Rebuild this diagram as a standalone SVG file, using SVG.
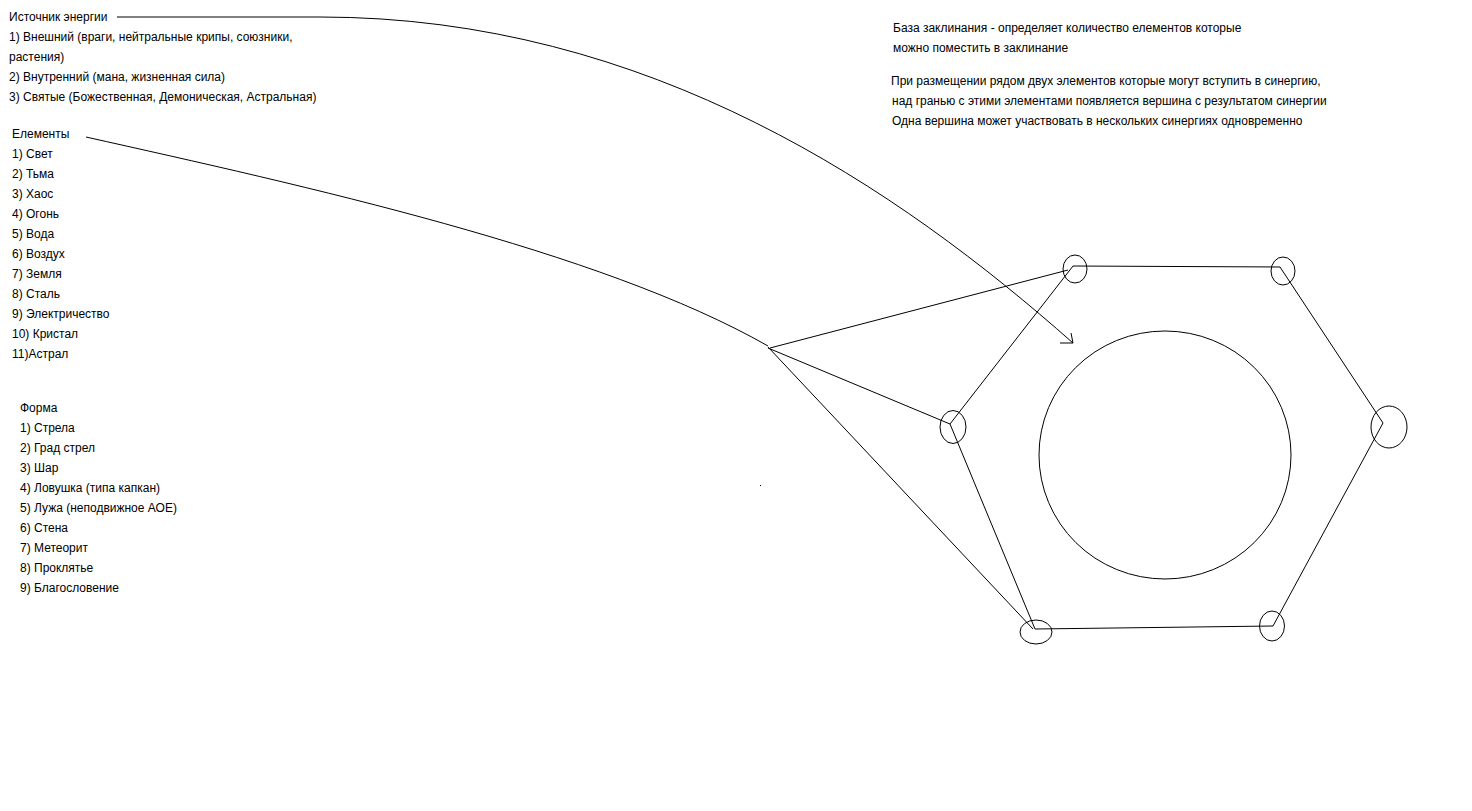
<svg xmlns="http://www.w3.org/2000/svg" width="1472" height="811" viewBox="0 0 1472 811">
<style>
text{font-family:"Liberation Sans",Arial,sans-serif;font-size:12px;fill:#000}
.ln{fill:none;stroke:#000;stroke-width:1}
</style>
<rect width="1472" height="811" fill="#fff"/>
<g id="source-text">
<text x="9" y="21">Источник энергии</text>
<text x="9" y="41">1) Внешний (враги, нейтральные крипы, союзники,</text>
<text x="9" y="61">растения)</text>
<text x="9" y="81">2) Внутренний (мана, жизненная сила)</text>
<text x="9" y="101">3) Святые (Божественная, Демоническая, Астральная)</text>
</g>
<g id="elements-text">
<text x="12" y="138">Елементы</text>
<text x="12" y="158">1) Свет</text>
<text x="12" y="178">2) Тьма</text>
<text x="12" y="198">3) Хаос</text>
<text x="12" y="218">4) Огонь</text>
<text x="12" y="238">5) Вода</text>
<text x="12" y="258">6) Воздух</text>
<text x="12" y="278">7) Земля</text>
<text x="12" y="298">8) Сталь</text>
<text x="12" y="318">9) Электричество</text>
<text x="12" y="338">10) Кристал</text>
<text x="12" y="358">11)Астрал</text>
</g>
<g id="form-text">
<text x="20" y="412">Форма</text>
<text x="20" y="432">1) Стрела</text>
<text x="20" y="452">2) Град стрел</text>
<text x="20" y="472">3) Шар</text>
<text x="20" y="492">4) Ловушка (типа капкан)</text>
<text x="20" y="512">5) Лужа (неподвижное АОЕ)</text>
<text x="20" y="532">6) Стена</text>
<text x="20" y="552">7) Метеорит</text>
<text x="20" y="572">8) Проклятье</text>
<text x="20" y="592">9) Благословение</text>
</g>
<g id="base-text">
<text x="893" y="32">База заклинания - определяет количество елементов которые</text>
<text x="893" y="52">можно поместить в заклинание</text>
<text x="891" y="85">При размещении рядом двух элементов которые могут вступить в синергию,</text>
<text x="892" y="105">над гранью с этими элементами появляется вершина с результатом синергии</text>
<text x="892" y="125">Одна вершина может участвовать в нескольких синергиях одновременно</text>
</g>
<g id="spell-base">
<ellipse class="ln" cx="1165" cy="455" rx="126" ry="124"/>
<polygon class="ln" points="1073,266 1280,267 1383,423 1273,626 1035,629 950,424"/>
</g>
<g id="vertices">
<ellipse id="v1" class="ln" cx="1075" cy="269" rx="12" ry="14"/>
<ellipse id="v2" class="ln" cx="1283" cy="271" rx="12" ry="14"/>
<ellipse id="v3" class="ln" cx="1389" cy="427" rx="18" ry="21"/>
<ellipse id="v4" class="ln" cx="1272" cy="626" rx="12.5" ry="15"/>
<ellipse id="v5" class="ln" cx="1036" cy="632" rx="16" ry="12"/>
<ellipse id="v6" class="ln" cx="953" cy="427" rx="13" ry="16.5"/>
</g>
<g id="connectors">
<path class="ln" d="M117,17 L320,17 C650,17 900,190 1073,343"/>
<path class="ln" d="M1060,343 L1073,343 L1071,333"/>
<path class="ln" d="M86,137 C300,185 600,250 768,346"/>
<path class="ln" d="M770,348 L1068,270"/>
<path class="ln" d="M768,348 L950,424"/>
<path class="ln" d="M768,347 L1033,629"/>
</g>
<rect x="760" y="485" width="1" height="1" fill="#000"/>
</svg>
